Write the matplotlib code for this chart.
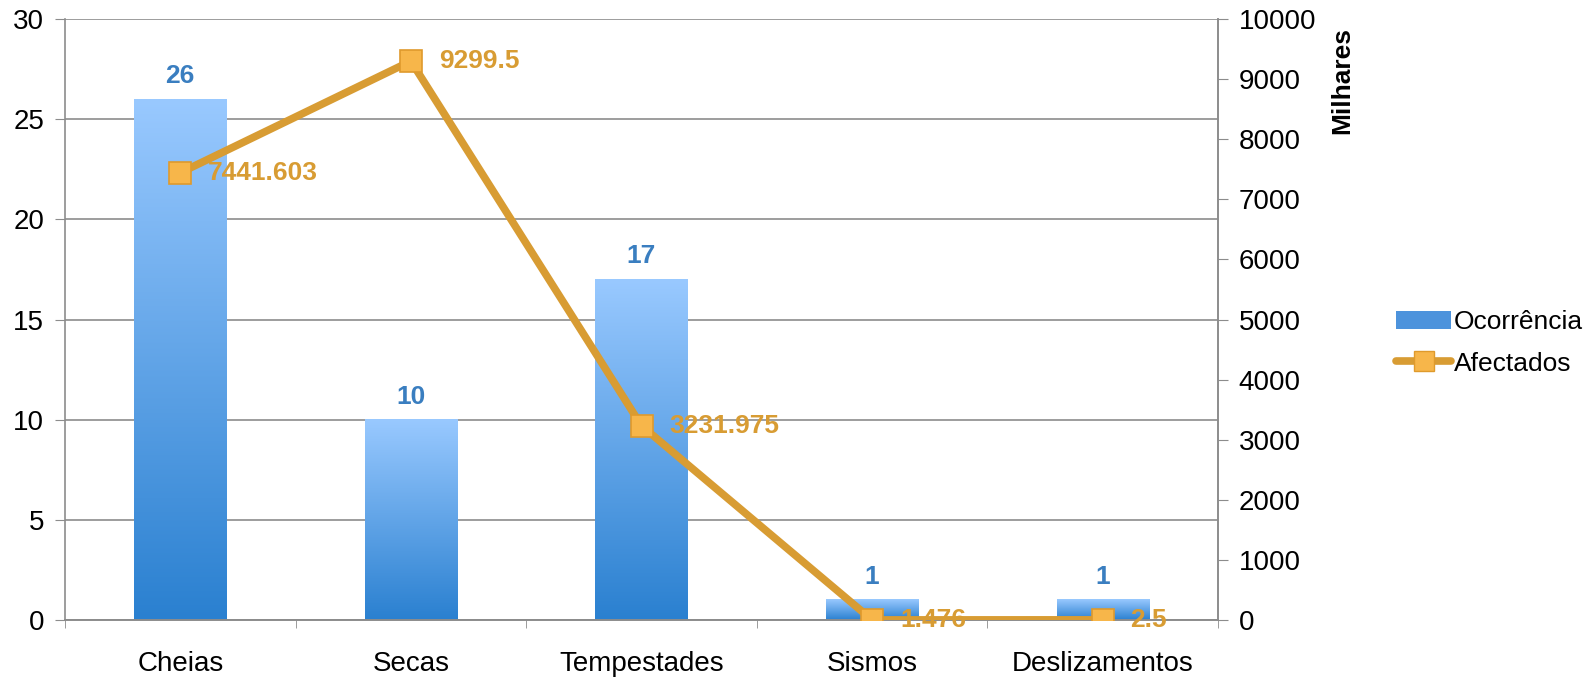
import numpy as np
import matplotlib.pyplot as plt
from matplotlib.lines import Line2D
from matplotlib.patches import Patch
from matplotlib.colors import LinearSegmentedColormap

plt.rcParams['font.family'] = ['Liberation Sans', 'DejaVu Sans']

categorias = ["Cheias", "Secas", "Tempestades", "Sismos", "Deslizamentos"]
ocorrencia = [26, 10, 17, 1, 1]
afectados = [7441.603, 9299.5, 3231.975, 1.476, 2.5]
afectados_txt = ["7441.603", "9299.5", "3231.975", "1.476", "2.5"]

azul = "#3A7EC0"
laranja = "#D89C33"
cinza = "#8C8C8C"

fig = plt.figure(figsize=(15.96, 6.77), dpi=100)
ax = fig.add_axes([65 / 1596, 1 - 620 / 677, (1218 - 65) / 1596, (620 - 19) / 677])
ax2 = ax.twinx()

x = np.arange(len(categorias))
w = 0.4

# barras com gradiente vertical
grad = LinearSegmentedColormap.from_list("g", ["#2A80D0", "#99C9FF"])
g = np.linspace(0, 1, 256).reshape(-1, 1)
for xi, v in zip(x, ocorrencia):
    ax.imshow(g, cmap=grad, origin="lower", aspect="auto",
              extent=(xi - w / 2, xi + w / 2, 0, v), zorder=2)
    ax.annotate(str(v), (xi, v), xytext=(0, 8), textcoords="offset points",
                ha="center", va="bottom", fontsize=19, fontweight="bold", color=azul)

ax.set_xlim(-0.5, len(categorias) - 0.5)
ax.set_ylim(0, 30)
ax.set_yticks(range(0, 31, 5))
ax.grid(axis="y", color=cinza, linewidth=1.2, zorder=0)
ax.set_axisbelow(True)
ax.set_xticks(x)
ax.set_xticklabels(categorias, fontsize=20)
ax.set_xticks(np.arange(-0.5, len(categorias)), minor=True)
ax.tick_params(axis="x", which="major", length=0, pad=22)
ax.tick_params(axis="x", which="minor", length=6, color=cinza)
ax.tick_params(axis="y", labelsize=20, length=7, color=cinza, pad=8)

# linha de afectados
ax2.plot(x, afectados, color=laranja, linewidth=5.5, marker="s", markersize=16,
         markerfacecolor="#F7B64A", markeredgecolor="#DF9A2C", markeredgewidth=1.2,
         zorder=3, solid_capstyle="round")
for xi, v, t in zip(x, afectados, afectados_txt):
    ax2.annotate(t, (xi, v), xytext=(20, 0), textcoords="offset points",
                 ha="left", va="center", fontsize=19, fontweight="bold", color=laranja)
ax2.set_ylim(0, 10000)
ax2.set_yticks(range(0, 10001, 1000))
ax2.tick_params(axis="y", labelsize=20, length=7, color=cinza, pad=8)

for a in (ax, ax2):
    a.spines["top"].set_visible(False)
    for s in ("left", "right", "bottom"):
        a.spines[s].set_color(cinza)
        a.spines[s].set_linewidth(1.2)
ax2.spines["left"].set_visible(False)

fig.text(1342 / 1596, 1 - 80 / 677, "Milhares", rotation=90, ha="center", va="center",
         fontsize=19, fontweight="bold")

handles = [Patch(facecolor="#4D93DC", edgecolor="none"),
           Line2D([], [], color=laranja, linewidth=5.5, marker="s", markersize=14,
                  markerfacecolor="#F7B64A", markeredgecolor="#DF9A2C", solid_capstyle="round")]
fig.legend(handles, ["Ocorrência", "Afectados"], loc="center left",
           bbox_to_anchor=(1396 / 1596, 1 - 343 / 677), frameon=False, fontsize=19,
           handlelength=2.1, handletextpad=0.1, labelspacing=0.65, borderaxespad=0,
           borderpad=0)

fig.savefig("out.png", dpi=100)
